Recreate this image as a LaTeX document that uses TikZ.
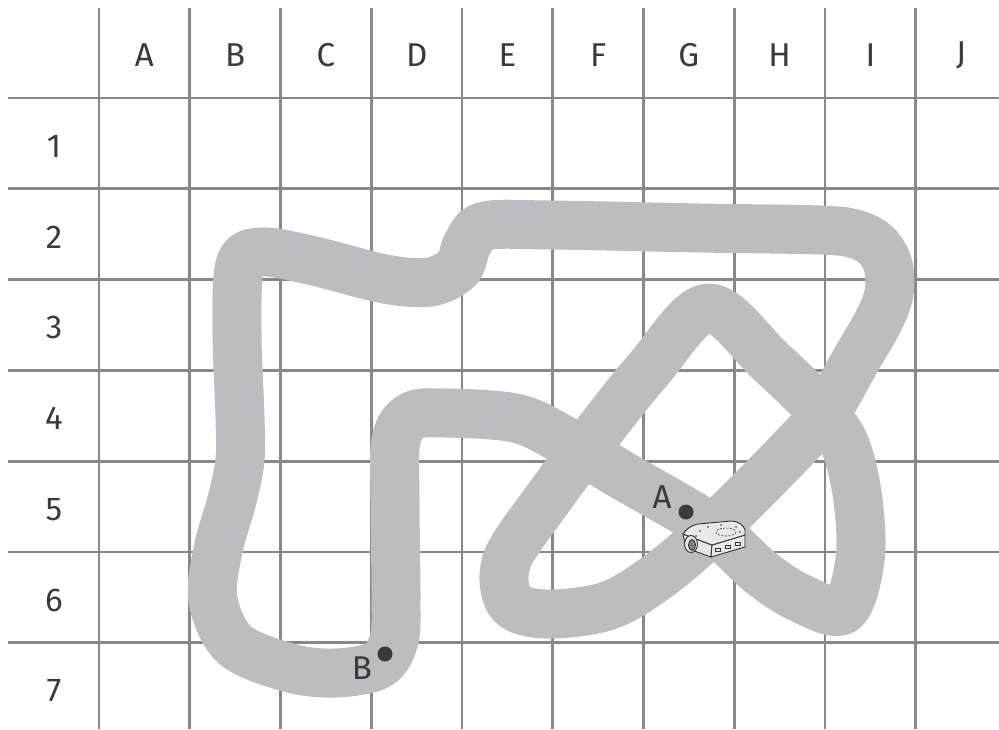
\documentclass[tikz,border=0pt]{standalone}
\usepackage{fontspec}
\setmainfont{Fira Sans}
\definecolor{gridgray}{RGB}{136,136,138}
\definecolor{trackgray}{RGB}{188,189,192}
\definecolor{labelgray}{RGB}{58,58,58}
\definecolor{robotbody}{RGB}{232,232,232}
\definecolor{robotedge}{RGB}{50,50,50}
\begin{document}
\begin{tikzpicture}[x=1pt,y=-1pt,
  gridline/.style={draw=gridgray,line width=2.7pt},
  track/.style={draw=trackgray,line width=49pt,line join=round,line cap=round},
  lbl/.style={text=labelgray,font=\fontsize{33}{40}\selectfont,inner sep=0pt,anchor=center},
  marker/.style={circle,fill=labelgray,minimum size=15pt,inner sep=0pt},
  robotline/.style={draw=robotedge,line width=0.9pt,line join=round}]
\useasboundingbox (0,0) rectangle (999,729);

% grid
\foreach \i in {0,...,9}
  \draw[gridline] ({99+90.75*\i},8) -- ({99+90.75*\i},729);
\foreach \j in {0,...,6}
  \draw[gridline] (8,{98+90.8*\j}) -- (999,{98+90.8*\j});

% column and row headings
\foreach \c [count=\i from 0] in {A,B,C,D,E,F,G,H,I,J}
  \node[lbl] (col-\c) at ({144.4+90.75*\i},55) {\c};
\foreach \r in {1,...,7}
  \node[lbl] (row-\r) at (54,{146+90.8*(\r-1)}) {\r};

% the track
\draw[track] plot[smooth cycle, tension=0.55] coordinates {
  (396,600) (395,500) (396,440) (412,416) (445,413) (515,418)
  (560,438) (620,474) (710,527) (760,572) (800,598) (843,610)
  (860,560) (858,500) (845,445) (820,410) (770,361) (708,308)
  (648,370) (592,440) (547,500) (507,560) (510,602) (545,614)
  (607,606) (657,577) (710,532) (790,452) (827,410) (856,360)
  (879,320) (889,293) (888,265) (876,245) (855,234) (820,230)
  (700,228) (550,225) (485,226)
  (467,245) (458,268) (430,282) (385,279) (310,260) (262,252)
  (240,265) (237,333) (240,417) (240,460) (232,500) (218,550)
  (213,600) (235,645) (290,668) (335,673) (378,665) (394,640)};

% robot
\begin{scope}
  % left side
  \filldraw[robotline,fill=robotbody] (683,534) -- (712,545) -- (711,557) -- (686,548) -- cycle;
  % front side
  \filldraw[robotline,fill=robotbody] (712,545) -- (745,535) -- (745,547) -- (711,557) -- cycle;
  % top
  \filldraw[robotline,fill=robotbody] (683,534) .. controls (686,529) and (692,525) .. (698,524)
    -- (731,521) .. controls (738,521) and (744,525) .. (745,530) -- (745,535) -- (712,545) -- cycle;
  % wheel
  \filldraw[robotline,fill=robotbody] (691,544) ellipse [x radius=6.5, y radius=8.5];
  \filldraw[robotline,fill=gray] (692,545) ellipse [x radius=3.5, y radius=5.5];
  % sensor ring and marks on top
  \draw[robotedge,line width=0.6pt,dash pattern=on 2pt off 1.5pt] (726,532) ellipse [x radius=10, y radius=4];
  \foreach \p in {(700,531),(708,527),(721,525),(736,527),(740,532),(696,536)}
    \fill[robotedge] \p circle (0.9);
  % openings on the front
  \foreach \p in {(718,550),(728,547),(738,544)}
    \draw[robotedge,line width=0.6pt] \p ++(-2.5,-1.3) rectangle ++(5,2.6);
\end{scope}

% start and end points
\node[marker] (ptA) at (686,512) {};
\node[lbl] (labA) at (662,497) {A};
\node[marker] (ptB) at (385,654) {};
\node[lbl] (labB) at (362,668) {B};
\end{tikzpicture}
\end{document}
